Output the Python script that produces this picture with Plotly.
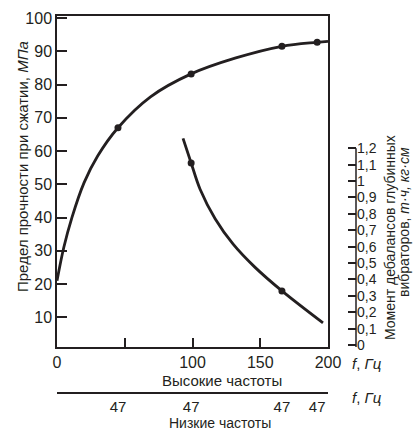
import plotly.graph_objects as go

# Compressive strength vs. high vibration frequency (left axis, MPa)
strength_freq = [0, 5, 11, 20, 30, 45, 69, 99, 132, 166, 192, 200]
strength_mpa = [21, 31, 40, 50.5, 58.5, 67, 76.3, 83.2, 88, 91.5, 92.7, 93]
strength_pts_freq = [45, 99, 166, 192]
strength_pts_mpa = [67, 83.2, 91.5, 92.7]

# Unbalance moment of deep vibrators vs. frequency (right axis)
moment_freq = [93, 99, 105.6, 116.7, 130, 146, 166, 196.3]
moment_val = [1.26, 1.11, 0.95, 0.77, 0.615, 0.475, 0.33, 0.135]
moment_pts_freq = [99, 166]
moment_pts_val = [1.11, 0.33]

# Axis ticks
high_ticks = [0, 50, 100, 150, 200]
high_labels = ["0", "", "100", "150", "200"]
low_tick_pos = [45, 99, 166, 192]
low_labels = ["47", "47", "47", "47"]
left_ticks = [10, 20, 30, 40, 50, 60, 70, 80, 90, 100]
right_ticks = [i / 10 for i in range(13)]
right_labels = ["0"] + [f"{v:.1f}".replace(".", ",") if v != 1 else "1" for v in right_ticks[1:]]

INK = "#231f20"
FONT = "Liberation Sans Narrow, Arial Narrow, Liberation Sans, Arial, sans-serif"

fig = go.Figure()

fig.add_trace(go.Scatter(x=strength_freq, y=strength_mpa, mode="lines",
                         line=dict(color=INK, width=2.8, shape="spline", smoothing=1),
                         hoverinfo="skip", showlegend=False))
fig.add_trace(go.Scatter(x=strength_pts_freq, y=strength_pts_mpa, mode="markers",
                         marker=dict(color=INK, size=7), showlegend=False))
fig.add_trace(go.Scatter(x=moment_freq, y=moment_val, mode="lines", yaxis="y2",
                         line=dict(color=INK, width=2.8, shape="spline", smoothing=1),
                         hoverinfo="skip", showlegend=False))
fig.add_trace(go.Scatter(x=moment_pts_freq, y=moment_pts_val, mode="markers", yaxis="y2",
                         marker=dict(color=INK, size=7), showlegend=False))
# carrier trace for the low-frequency scale
fig.add_trace(go.Scatter(x=low_tick_pos, y=[50] * len(low_tick_pos), mode="markers",
                         xaxis="x2", marker=dict(size=1, opacity=0),
                         hoverinfo="skip", showlegend=False))

W, H = 414, 430
L, T, B = 57, 16, 37
PW, PH = W - L, H - T - B


def px(x):
    return (x - L) / PW


def py(y):
    return (H - B - y) / PH


x_dom = [0, px(328)]
y_dom = [py(347), 1]
right_pos = px(356)

fig.update_layout(
    width=W, height=H, autosize=False,
    margin=dict(l=L, r=0, t=T, b=B, autoexpand=False),
    paper_bgcolor="white", plot_bgcolor="white",
    font=dict(family=FONT, size=15, color=INK),
    xaxis=dict(domain=x_dom, range=[0, 200], tickvals=high_ticks, ticktext=high_labels,
               ticks="inside", ticklen=9, tickwidth=1.5, tickcolor=INK,
               tickfont=dict(size=16),
               showline=True, linecolor=INK, linewidth=1.5, mirror=True,
               showgrid=False, zeroline=False, fixedrange=True),
    xaxis2=dict(domain=x_dom, range=[0, 200], overlaying="x", anchor="free", position=0,
                side="bottom", tickvals=low_tick_pos, ticktext=low_labels, ticks="",
                tickfont=dict(size=15),
                showline=True, linecolor=INK, linewidth=1.5,
                showgrid=False, zeroline=False, fixedrange=True),
    yaxis=dict(domain=y_dom, range=[1.1, 100.6], tickvals=left_ticks,
               ticks="inside", ticklen=10, tickwidth=1.5, tickcolor=INK,
               tickfont=dict(size=16),
               showline=True, linecolor=INK, linewidth=1.5, mirror=True,
               showgrid=False, zeroline=False, fixedrange=True),
    yaxis2=dict(overlaying="y", anchor="free", position=right_pos, side="right",
                range=[-0.012, 2.006], tickvals=right_ticks, ticktext=right_labels,
                ticks="inside", ticklen=8, tickwidth=1.5, tickcolor=INK,
                tickfont=dict(size=14), showline=False,
                showgrid=False, zeroline=False, fixedrange=True),
    shapes=[dict(type="line", xref="paper", yref="y2",
                 x0=right_pos, x1=right_pos, y0=-0.012, y1=1.2,
                 line=dict(color=INK, width=1.5))],
)

ann = dict(xref="paper", yref="paper", showarrow=False, xanchor="center", yanchor="middle",
           font=dict(family=FONT, size=15, color=INK))
small_ann = dict(ann, font=dict(family=FONT, size=14, color=INK))
fig.add_annotation(text="Предел прочности при сжатии, <i>МПа</i>", x=px(22), y=py(167),
                   textangle=-90, **ann)
fig.add_annotation(text="Момент дебалансов глубинных", x=px(390), y=py(238),
                   textangle=-90, **small_ann)
fig.add_annotation(text="вибраторов, <i>т·ч, кг·см</i>", x=px(404), y=py(222),
                   textangle=-90, **small_ann)
fig.add_annotation(text="Высокие частоты", x=px(222), y=py(380), **ann)
fig.add_annotation(text="Низкие частоты", x=px(220), y=py(422.5), **small_ann)
fig.add_annotation(text="<i>f</i>, <i>Гц</i>", x=px(367), y=py(363), **ann)
fig.add_annotation(text="<i>f</i>, <i>Гц</i>", x=px(367), y=py(397), **ann)

fig.write_html("out.html", config={"responsive": False, "displayModeBar": False},
               post_script="document.documentElement.style.overflow='hidden';")
